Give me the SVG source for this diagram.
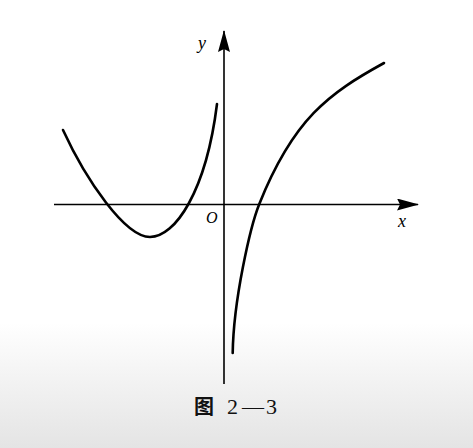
<svg xmlns="http://www.w3.org/2000/svg" width="473" height="448" viewBox="0 0 473 448">
  <defs>
    <linearGradient id="bg" x1="0" y1="0" x2="0" y2="1">
      <stop offset="0" stop-color="#ffffff"/>
      <stop offset="0.72" stop-color="#ffffff"/>
      <stop offset="1" stop-color="#e4e4e4"/>
    </linearGradient>
    <marker id="arrow" viewBox="0 0 22 12" refX="21" refY="6" markerWidth="22" markerHeight="12" markerUnits="userSpaceOnUse" orient="auto">
      <path d="M0,0 L22,6 L0,12 L3,6 Z" fill="#000"/>
    </marker>
  </defs>
  <style>
    .axis { stroke: #000; stroke-width: 1.6; fill: none; }
    .curve { stroke: #000; stroke-width: 2.6; fill: none; stroke-linecap: round; }
    .lbl { font-family: "Liberation Serif", serif; font-style: italic; fill: #000; }
    .cap { font-family: "Liberation Serif", "Noto Sans CJK SC", serif; fill: #111; }
  </style>
  <rect x="0" y="0" width="473" height="448" fill="url(#bg)"/>
  <g id="axes">
    <line class="axis" x1="54" y1="204.5" x2="418" y2="204.5" marker-end="url(#arrow)"/>
    <line class="axis" x1="224" y1="384" x2="224" y2="31" marker-end="url(#arrow)"/>
  </g>
  <g id="curve-left">
    <path class="curve" d="M63,130 C86,180 125,237 150,237 C175,237 206,192 217,104"/>
  </g>
  <g id="curve-right">
    <path class="curve" d="M232.7,353 C233.5,300 250.3,226.5 259.3,204 C293.3,119 329,93.25 384,63"/>
  </g>
  <g id="labels">
    <text class="lbl" x="198" y="49" font-size="18">y</text>
    <text class="lbl" x="398" y="227" font-size="18">x</text>
    <text class="lbl" x="206" y="223" font-size="16">O</text>
  </g>
  <g id="caption">
    <text class="cap" x="194" y="414" font-size="20" font-family="Noto Sans CJK SC, sans-serif" font-weight="bold">图</text>
    <text class="cap" x="227 242 266" y="414" font-size="22">2—3</text>
  </g>
</svg>
